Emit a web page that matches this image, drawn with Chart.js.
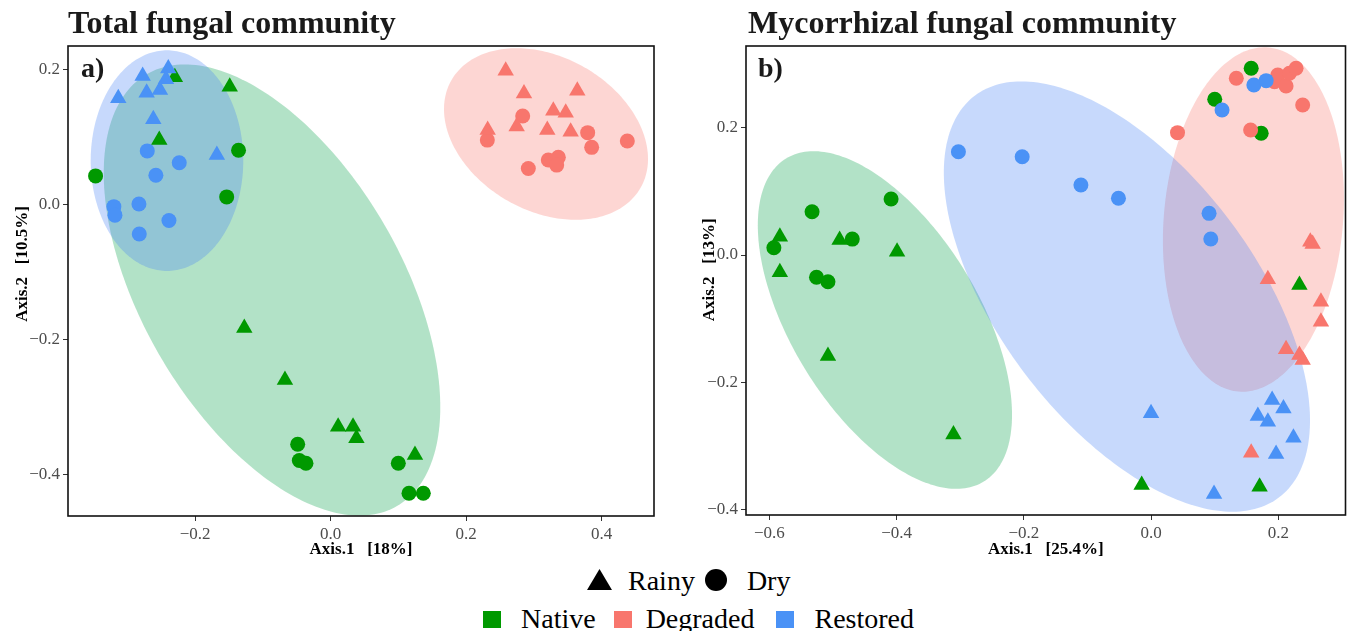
<!DOCTYPE html>
<html>
<head>
<meta charset="utf-8">
<script src="https://cdn.jsdelivr.net/npm/chart.js@4.4.1/dist/chart.umd.min.js"></script>
<style>
  html, body { margin: 0; padding: 0; background: #ffffff; }
  body { width: 1355px; height: 631px; position: relative; overflow: hidden; font-family: 'Liberation Serif', 'Times New Roman', serif; }
  canvas { position: absolute; top: 0; }
  #c1 { left: 0; }
  #c2 { left: 680px; }
  .title { position: absolute; font-weight: bold; font-size: 32px; line-height: 32px; color: #1a1a1a; white-space: nowrap; }
  .tag { position: absolute; font-weight: bold; font-size: 28px; line-height: 28px; color: #1a1a1a; }
  .row { position: absolute; display: flex; align-items: center; font-size: 28px; line-height: 28px; color: #000; white-space: nowrap; }
  .tri { width: 25px; height: 21px; background: #000; clip-path: polygon(50% 0, 100% 100%, 0 100%); }
  .dot { width: 22px; height: 22px; background: #000; border-radius: 50%; }
  .sq { width: 18px; height: 17px; }
</style>
</head>
<body>
<canvas id="c1" width="680" height="560"></canvas>
<canvas id="c2" width="675" height="560"></canvas>
<div class="title" style="left:68px; top:6px;">Total fungal community</div>
<div class="title" style="left:748px; top:6px;">Mycorrhizal fungal community</div>
<div class="tag" style="left:81px; top:54px;">a)</div>
<div class="tag" style="left:758px; top:54px;">b)</div>
<div class="row" id="legendShape" style="left:587px; top:567px;"></div>
<div class="row" id="legendGroup" style="left:483px; top:605px;"></div>
<script>
// ---------- categories ----------
const groups = ['Native', 'Degraded', 'Restored'];
const seasons = ['Rainy', 'Dry'];
const groupColors = ['#009900', '#f8766d', '#4a92f6'];
const ellipseFills = ['rgba(0,160,70,0.30)', 'rgba(248,118,109,0.30)', 'rgba(70,130,245,0.30)'];

// ---------- panel a: Total fungal community ----------
const totalNativeRainy = [[-0.230,0.188],[-0.149,0.174],[-0.253,0.095],[-0.1275,-0.183],[-0.0675,-0.260],[0.011,-0.329],[0.033,-0.329],[0.038,-0.346],[0.1244,-0.371]];
const totalNativeDry = [[-0.136,0.080],[-0.347,0.042],[-0.1535,0.011],[-0.0487,-0.355],[-0.0463,-0.379],[-0.0365,-0.383],[0.0998,-0.383],[0.1156,-0.4275],[0.1367,-0.4275]];
const totalDegradedRainy = [[0.2583,0.1976],[0.2853,0.164],[0.364,0.168],[0.3286,0.1385],[0.3469,0.1355],[0.2745,0.115],[0.3197,0.110],[0.3542,0.1075],[0.2317,0.110]];
const totalDegradedDry = [[0.2834,0.1306],[0.2312,0.095],[0.3793,0.106],[0.3852,0.0843],[0.4378,0.0936],[0.2917,0.053],[0.3212,0.0655],[0.336,0.0695],[0.3336,0.058]];
const totalRestoredRainy = [[-0.2397,0.201],[-0.2775,0.190],[-0.3135,0.157],[-0.2716,0.165],[-0.252,0.169],[-0.2431,0.185],[-0.2618,0.126],[-0.168,0.073]];
const totalRestoredDry = [[-0.2707,0.079],[-0.2235,0.0615],[-0.258,0.043],[-0.320,-0.0035],[-0.3184,-0.016],[-0.283,0.0004],[-0.2387,-0.024],[-0.2825,-0.044]];
// ellipses: [centerX, centerY, semiMajor, semiMinor, angleDeg] in data units (Native, Degraded, Restored)
const totalEllipses = [[-0.0866,-0.1268,0.369,0.192,-60],[0.3178,0.104,0.1607,0.1138,-29.7],[-0.2416,0.0646,0.1632,0.1126,90]];
const totalXRange = [-0.3877, 0.4772];
const totalYRange = [-0.4611, 0.2342];
const totalXTicks = [-0.2, 0.0, 0.2, 0.4];
const totalYTicks = [-0.4, -0.2, 0.0, 0.2];
const totalXTitle = 'Axis.1   [18%]';
const totalYTitle = '        Axis.2   [10.5%]';

// ---------- panel b: Mycorrhizal fungal community ----------
const mycoNativeRainy = [[-0.5836,0.0287],[-0.4897,0.0235],[-0.3994,0.005],[-0.5836,-0.027],[-0.508,-0.1586],[-0.3108,-0.2815],[0.2329,-0.047],[0.1703,-0.3637],[-0.015,-0.361]];
const mycoNativeDry = [[-0.4088,0.0879],[-0.533,0.068],[-0.593,0.0115],[-0.4698,0.025],[-0.526,-0.035],[-0.508,-0.042],[0.0998,0.2444],[0.1571,0.293],[0.1728,0.191]];
const mycoDegradedRainy = [[0.25,0.0209],[0.2537,0.0173],[0.1833,-0.038],[0.2667,-0.0733],[0.2667,-0.1047],[0.2119,-0.148],[0.2329,-0.157],[0.238,-0.1648],[0.1571,-0.3104]];
const mycoDegradedDry = [[0.0413,0.192],[0.1337,0.2774],[0.1937,0.272],[0.1989,0.2826],[0.2119,0.2653],[0.2172,0.2852],[0.2276,0.293],[0.238,0.2355],[0.1562,0.1962]];
const mycoRestoredRainy = [[0.19,-0.2276],[0.2078,-0.2407],[0.1676,-0.2527],[0.1833,-0.2617],[-0.0003,-0.2485],[0.2235,-0.2868],[0.1962,-0.3124],[0.0987,-0.3752]];
const mycoRestoredDry = [[-0.303,0.162],[-0.2028,0.1543],[-0.1105,0.1099],[-0.0515,0.089],[0.0909,0.0654],[0.0936,0.0251],[0.1113,0.2276],[0.1613,0.2669],[0.1806,0.2736]];
const mycoEllipses = [[-0.4185,-0.102,0.2973,0.1473,-58.5],[0.1606,0.0557,0.271,0.1408,85],[-0.0382,-0.0652,0.3956,0.2008,-52.8]];
const mycoXRange = [-0.6368, 0.3053];
const mycoYRange = [-0.408, 0.328];
const mycoXTicks = [-0.6, -0.4, -0.2, 0.0, 0.2];
const mycoYTicks = [-0.4, -0.2, 0.0, 0.2];
const mycoXTitle = 'Axis.1   [25.4%]';
const mycoYTitle = '     Axis.2   [13%]';

// ---------- plugins ----------
const ellipseLayer = {
  id: 'ellipseLayer',
  beforeDatasetsDraw(chart, args, opts) {
    const ctx = chart.ctx, xs = chart.scales.x, ys = chart.scales.y;
    (opts.items || []).forEach((e, gi) => {
      const [cx, cy, a, b, ang] = e;
      const t = ang * Math.PI / 180;
      ctx.save();
      ctx.beginPath();
      const n = 240;
      for (let i = 0; i <= n; i++) {
        const p = i / n * 2 * Math.PI;
        const dx = a * Math.cos(p), dy = b * Math.sin(p);
        const vx = cx + dx * Math.cos(t) - dy * Math.sin(t);
        const vy = cy + dx * Math.sin(t) + dy * Math.cos(t);
        const px = xs.getPixelForValue(vx), py = ys.getPixelForValue(vy);
        if (i === 0) ctx.moveTo(px, py); else ctx.lineTo(px, py);
      }
      ctx.closePath();
      ctx.fillStyle = opts.fills[gi];
      ctx.fill();
      ctx.restore();
    });
  }
};
const frameLayer = {
  id: 'frameLayer',
  afterDraw(chart) {
    const ctx = chart.ctx, a = chart.chartArea;
    ctx.save();
    ctx.strokeStyle = '#111';
    ctx.lineWidth = 1.6;
    ctx.strokeRect(a.left, a.top, a.right - a.left, a.bottom - a.top);
    ctx.restore();
  }
};

function fmt(v) {
  const s = Math.abs(v) < 1e-9 ? '0.0' : v.toFixed(1);
  return s.replace('-', '\u2212');
}

function makeChart(id, cfg) {
  // draw order: Restored, Degraded, Native
  const order = [2, 1, 0];
  const datasets = [];
  order.forEach(g => {
    [0, 1].forEach(s => {
      const pts = cfg.series[g][s];
      datasets.push({
        label: groups[g] + ' ' + seasons[s],
        data: pts.map(p => ({ x: p[0], y: p[1] })),
        pointStyle: s === 0 ? 'triangle' : 'circle',
        pointRadius: s === 0 ? 9.5 : 7.5,
        pointHoverRadius: s === 0 ? 9.5 : 7.5,
        pointBorderWidth: 0,
        backgroundColor: groupColors[g],
        borderColor: groupColors[g]
      });
    });
  });
  const tickFont = { family: "'Liberation Serif', serif", size: 17 };
  const titleFont = { family: "'Liberation Serif', serif", size: 17, weight: 'bold' };
  return new Chart(document.getElementById(id), {
    type: 'scatter',
    data: { datasets },
    plugins: [ellipseLayer, frameLayer],
    options: {
      responsive: false,
      animation: false,
      devicePixelRatio: 1,
      layout: { padding: { left: 0, right: cfg.padRight, top: 46, bottom: 0 } },
      plugins: {
        legend: { display: false },
        tooltip: { enabled: false },
        ellipseLayer: { items: cfg.ellipses, fills: ellipseFills }
      },
      scales: {
        x: {
          type: 'linear',
          min: cfg.xRange[0], max: cfg.xRange[1],
          afterBuildTicks: sc => { sc.ticks = cfg.xTicks.map(v => ({ value: v })); },
          afterFit: sc => { sc.height = cfg.xHeight; },
          ticks: { callback: v => fmt(v), font: tickFont, color: '#4d4d4d', padding: 3, maxRotation: 0 },
          grid: { drawOnChartArea: false, drawTicks: true, tickLength: 5, color: '#333' },
          border: { display: false },
          title: { display: true, text: cfg.xTitle, font: titleFont, color: '#000', padding: { top: 0, bottom: 0 } }
        },
        y: {
          type: 'linear',
          min: cfg.yRange[0], max: cfg.yRange[1],
          afterBuildTicks: sc => { sc.ticks = cfg.yTicks.map(v => ({ value: v })); },
          afterFit: sc => { sc.width = cfg.yWidth; },
          ticks: { callback: v => fmt(v), font: tickFont, color: '#4d4d4d', padding: 3 },
          grid: { drawOnChartArea: false, drawTicks: true, tickLength: 5, color: '#333' },
          border: { display: false },
          title: { display: true, text: cfg.yTitle, font: titleFont, color: '#000', padding: { top: cfg.yTitlePad, bottom: 0 } }
        }
      }
    }
  });
}

makeChart('c1', {
  series: [[totalNativeRainy, totalNativeDry], [totalDegradedRainy, totalDegradedDry], [totalRestoredRainy, totalRestoredDry]],
  ellipses: totalEllipses,
  xRange: totalXRange, yRange: totalYRange,
  xTicks: totalXTicks, yTicks: totalYTicks,
  xTitle: totalXTitle, yTitle: totalYTitle,
  padRight: 26, xHeight: 44, yWidth: 68, yTitlePad: 12
});
makeChart('c2', {
  series: [[mycoNativeRainy, mycoNativeDry], [mycoDegradedRainy, mycoDegradedDry], [mycoRestoredRainy, mycoRestoredDry]],
  ellipses: mycoEllipses,
  xRange: mycoXRange, yRange: mycoYRange,
  xTicks: mycoXTicks, yTicks: mycoYTicks,
  xTitle: mycoXTitle, yTitle: mycoYTitle,
  padRight: 7, xHeight: 45, yWidth: 66, yTitlePad: 19
});

// ---------- legend (HTML) ----------
const shapeRow = document.getElementById('legendShape');
seasons.forEach((s, i) => {
  const m = document.createElement('div');
  m.className = i === 0 ? 'tri' : 'dot';
  m.style.marginLeft = i === 0 ? '0' : '10px';
  m.style.marginTop = '-3px';
  const t = document.createElement('span');
  t.textContent = s;
  t.style.marginLeft = i === 0 ? '16px' : '20px';
  shapeRow.appendChild(m); shapeRow.appendChild(t);
});
const groupRow = document.getElementById('legendGroup');
groups.forEach((g, i) => {
  const m = document.createElement('div');
  m.className = 'sq';
  m.style.background = groupColors[i];
  m.style.marginLeft = i === 0 ? '0' : (i === 1 ? '18px' : '22px');
  const t = document.createElement('span');
  t.textContent = g;
  t.style.marginLeft = i === 1 ? '14px' : '20px';
  groupRow.appendChild(m); groupRow.appendChild(t);
});
</script>
</body>
</html>
